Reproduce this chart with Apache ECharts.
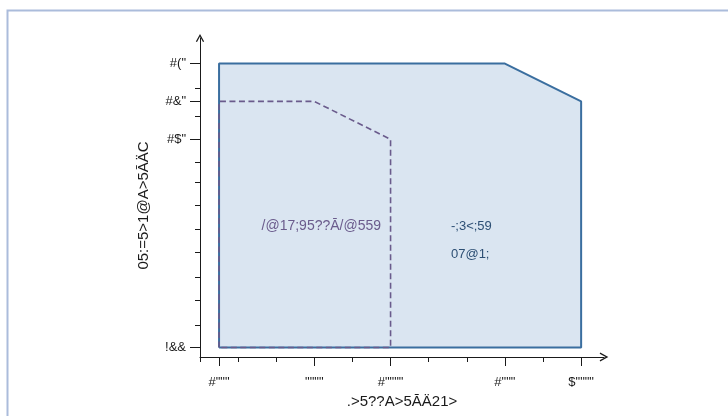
<!DOCTYPE html>
<html>
<head>
<meta charset="utf-8">
<script src="https://cdn.jsdelivr.net/npm/echarts@6/dist/echarts.min.js"></script>
<style>html,body{margin:0;padding:0;background:#fff;}#c{width:728px;height:416px;}</style>
</head>
<body>
<div id="c"></div>
<script>
// ---- data ----
var outerX = [100, 100, 1600, 2000, 2000, 100];
var outerY = [10, 160, 160, 140, 10, 10];
var innerX = [100, 100, 600, 1000, 1000, 100];
var innerY = [10, 140, 140, 120, 10, 10];

var xTickValues = [100, 600, 1000, 1600, 2000];
var xTickLabels = ['#"""', '""""', '#""""', '#"""', '$""""'];
var xMinorTicks = [0, 200, 400, 800, 1200, 1400, 1800];

var yTickValues = [10, 120, 140, 160];
var yTickLabels = ['!&&', '#$"', '#&"', '#("'];
var yMinorTicks = [22, 35, 47.3, 60.2, 72.3, 85.2, 97.5, 108, 132.2, 146.8];

var xName = '.>5??A>5ĀÄ21>';
var yName = '05:=5>1@A>5ĀÄC';

var innerLabel = { text: '/@17;95??Ā/@559', x: 950, y: 74.2 };
var outerLabel1 = { text: '-;3<;59', x: 1317, y: 74.2 };
var outerLabel2 = { text: '07@1;', x: 1317, y: 59.4 };

// ---- chart ----
var FONT = 'Liberation Sans';
var AXIS = '#1a1a1a';
var BLUE = '#3a6e9f';
var FILL = '#dae5f1';
var PURPLE = '#6a5b8c';
var chevron = 'path://M5,0L10,9L8.6,9.6L5,3L1.4,9.6L0,9Z';

function pairs(xs, ys) { return xs.map(function (x, i) { return [x, ys[i]]; }); }
function lookup(vals, labels) { return function (v) { var i = vals.indexOf(v); return i < 0 ? '' : labels[i]; }; }

var chart = echarts.init(document.getElementById('c'), null, { renderer: 'canvas' });
chart.setOption({
  animation: false,
  backgroundColor: '#fff',
  graphic: [{
    type: 'rect', left: 5, top: 8, silent: true,
    shape: { width: 800, height: 500 },
    style: { fill: 'none', stroke: '#abbcdb', lineWidth: 2 }
  }],
  grid: { left: 200, right: 124, top: 38, height: 319 },
  xAxis: [{
    type: 'value', min: 0, max: 2120,
    axisLine: { show: true, symbol: ['none', chevron], symbolSize: [9, 9], lineStyle: { color: AXIS, width: 1 } },
    axisTick: { show: true, length: 9, customValues: xTickValues, lineStyle: { color: AXIS } },
    axisLabel: { customValues: xTickValues, formatter: lookup(xTickValues, xTickLabels), margin: 19, color: AXIS, fontFamily: FONT, fontSize: 13 },
    splitLine: { show: false },
    name: xName, nameLocation: 'middle', nameGap: 33,
    nameTextStyle: { color: AXIS, fontFamily: FONT, fontSize: 15 }
  }, {
    type: 'value', min: 0, max: 2120, position: 'bottom',
    axisLine: { show: false },
    axisTick: { show: true, length: 5, customValues: xMinorTicks, lineStyle: { color: AXIS } },
    axisLabel: { show: false },
    splitLine: { show: false }
  }],
  yAxis: [{
    type: 'value', min: 5, max: 173.5,
    axisLine: { show: true, symbol: ['none', chevron], symbolSize: [9, 8], lineStyle: { color: AXIS, width: 1 } },
    axisTick: { show: true, length: 10, customValues: yTickValues, lineStyle: { color: AXIS } },
    axisLabel: { customValues: yTickValues, formatter: lookup(yTickValues, yTickLabels), margin: 14, color: AXIS, fontFamily: FONT, fontSize: 13 },
    splitLine: { show: false },
    name: yName, nameLocation: 'middle', nameGap: 49,
    nameTextStyle: { color: AXIS, fontFamily: FONT, fontSize: 15, padding: [0, 16, 0, 0] }
  }, {
    type: 'value', min: 5, max: 173.5, position: 'left',
    axisLine: { show: false },
    axisTick: { show: true, length: 5, customValues: yMinorTicks, lineStyle: { color: AXIS } },
    axisLabel: { show: false },
    splitLine: { show: false }
  }],
  series: [{
    type: 'line', xAxisIndex: 0, yAxisIndex: 0,
    data: pairs(outerX, outerY),
    showSymbol: false, symbol: 'none',
    lineStyle: { color: BLUE, width: 2 },
    areaStyle: { color: FILL, opacity: 1, origin: 10 },
    z: 2,
    markPoint: {
      symbol: 'circle', symbolSize: 0,
      label: { show: true, position: 'inside', align: 'left', verticalAlign: 'middle', color: '#2d4f74', fontFamily: FONT, fontSize: 13, formatter: function (p) { return p.name; } },
      data: [
        { name: outerLabel1.text, coord: [outerLabel1.x, outerLabel1.y] },
        { name: outerLabel2.text, coord: [outerLabel2.x, outerLabel2.y] }
      ]
    }
  }, {
    type: 'line', xAxisIndex: 0, yAxisIndex: 0,
    data: pairs(innerX, innerY),
    showSymbol: false, symbol: 'none',
    lineStyle: { color: PURPLE, width: 1.6, type: [6, 3.5] },
    z: 3,
    markPoint: {
      symbol: 'circle', symbolSize: 0,
      label: { show: true, position: 'inside', align: 'right', verticalAlign: 'middle', color: PURPLE, fontFamily: FONT, fontSize: 14, formatter: function (p) { return p.name; } },
      data: [
        { name: innerLabel.text, coord: [innerLabel.x, innerLabel.y] }
      ]
    }
  }]
});
</script>
</body>
</html>
